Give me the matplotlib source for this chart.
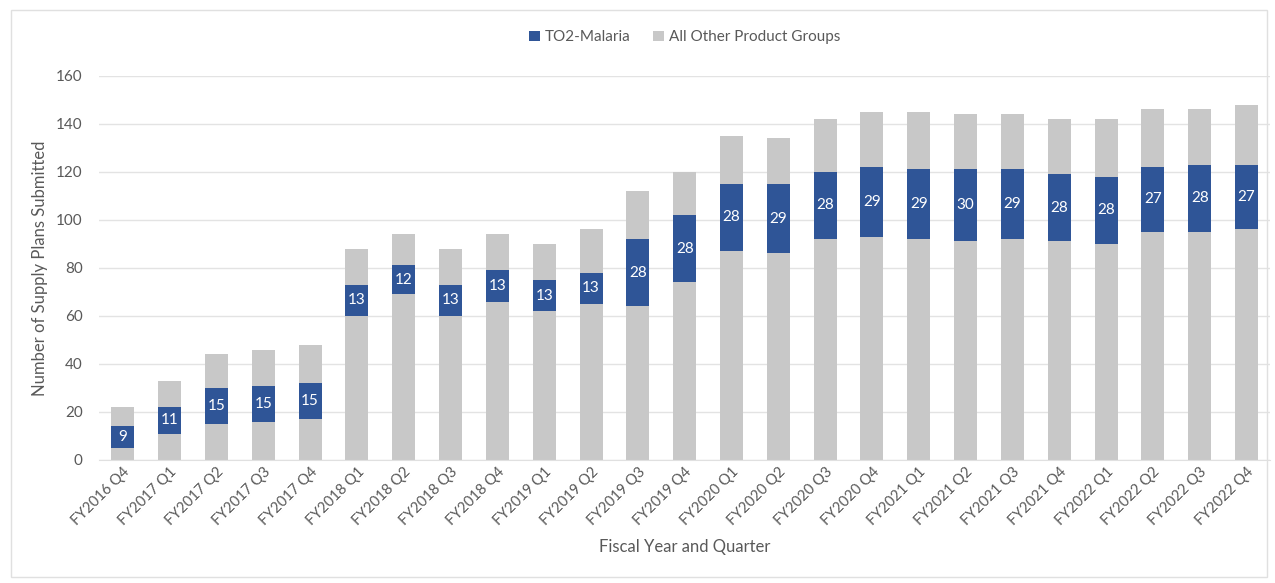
import matplotlib.pyplot as plt
from matplotlib.patches import Rectangle

plt.rcParams['font.family'] = ['Lato', 'DejaVu Sans']

# quarters on the x axis
quarters = ["FY2016 Q4", "FY2017 Q1", "FY2017 Q2", "FY2017 Q3", "FY2017 Q4",
            "FY2018 Q1", "FY2018 Q2", "FY2018 Q3", "FY2018 Q4",
            "FY2019 Q1", "FY2019 Q2", "FY2019 Q3", "FY2019 Q4",
            "FY2020 Q1", "FY2020 Q2", "FY2020 Q3", "FY2020 Q4",
            "FY2021 Q1", "FY2021 Q2", "FY2021 Q3", "FY2021 Q4",
            "FY2022 Q1", "FY2022 Q2", "FY2022 Q3", "FY2022 Q4"]
# malaria plans (blue segment)
malaria = [9, 11, 15, 15, 15, 13, 12, 13, 13, 13, 13, 28, 28,
           28, 29, 28, 29, 29, 30, 29, 28, 28, 27, 28, 27]
# other groups below the blue segment
other_below = [5, 11, 15, 16, 17, 60, 69, 60, 66, 62, 65, 64, 74,
               87, 86, 92, 93, 92, 91, 92, 91, 90, 95, 95, 96]
# total of all plans
total = [22, 33, 44, 46, 48, 88, 94, 88, 94, 90, 96, 112, 120,
         135, 134, 142, 145, 145, 144, 144, 142, 142, 146, 146, 148]

blue = '#2F5597'
grey = '#C8C8C8'
txt = '#595959'

other_above = [t - b - m for t, b, m in zip(total, other_below, malaria)]
mal_bottom = other_below
top_bottom = [b + m for b, m in zip(other_below, malaria)]

fig = plt.figure(figsize=(12.75, 5.83), dpi=100)
ax = fig.add_axes([0.078, 0.211, 0.918, 0.659])

x = range(len(quarters))
w = 0.49
ax.bar(x, other_below, w, color=grey, zorder=2)
ax.bar(x, malaria, w, bottom=mal_bottom, color=blue, zorder=2, label='TO2-Malaria')
ax.bar(x, other_above, w, bottom=top_bottom, color=grey, zorder=2, label='All Other Product Groups')

for i in x:
    ax.text(i, mal_bottom[i] + malaria[i] / 2, str(malaria[i]), ha='center', va='center',
            color='white', fontsize=11, zorder=3)

ax.set_xlim(-0.5, len(quarters) - 0.5)
ax.set_ylim(0, 160)
ax.set_yticks(range(0, 161, 20))
ax.yaxis.grid(True, color='#E3E3E3', linewidth=1, zorder=0)
ax.set_axisbelow(True)
for s in ['top', 'right', 'left']:
    ax.spines[s].set_visible(False)
ax.spines['bottom'].set_color('#E0E0E0')
ax.tick_params(axis='both', length=0, colors=txt, labelsize=10.5)
ax.tick_params(axis='y', pad=12, labelsize=11)
ax.set_xticks(list(x))
ax.set_xticklabels(quarters, rotation=45, ha='right', rotation_mode='anchor')

ax.set_ylabel('Number of Supply Plans Submitted', color=txt, fontsize=12, labelpad=6)
ax.set_xlabel('Fiscal Year and Quarter', color=txt, fontsize=12, labelpad=8)

ax.legend(loc='center', bbox_to_anchor=(0.5, 1.1), ncol=2, frameon=False,
          fontsize=11, handlelength=0.7, handleheight=0.7, handletextpad=0.3,
          columnspacing=1.5, labelcolor=txt)

fig.patches.append(Rectangle((0.009, 0.01), 0.985, 0.973, transform=fig.transFigure,
                             fill=False, edgecolor='#E0E0E0', linewidth=1))

fig.savefig('out.png', dpi=100)
